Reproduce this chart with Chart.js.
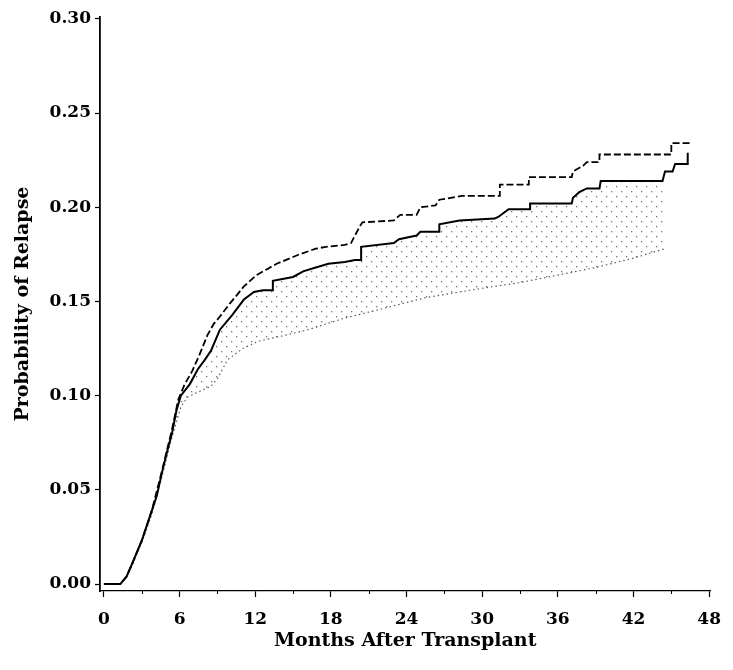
<!DOCTYPE html>
<html>
<head>
<meta charset="utf-8">
<script src="https://cdn.jsdelivr.net/npm/chart.js@4.4.1/dist/chart.umd.min.js"></script>
<style>
  html, body { margin: 0; padding: 0; background: #fff; }
  #wrap { width: 733px; height: 670px; }
</style>
</head>
<body>
<div id="wrap"><canvas id="relapse-chart"></canvas></div>
<script>
// Tick labels
const xTicks = [0, 6, 12, 18, 24, 30, 36, 42, 48];
const xMinorTicks = [3, 9, 15, 21, 27, 33, 39, 45];
const yTicks = [0, 0.05, 0.10, 0.15, 0.20, 0.25, 0.30];

// Solid curve (estimate); repeated months are the vertical steps
const solidMonths = [0, 1.3, 1.8, 2.25, 3.0, 3.8, 4.2, 4.6, 5.0, 5.4, 5.75, 6.1, 6.8, 7.45, 8.0, 8.5, 9.2, 10.2, 11.1, 11.9, 12.6, 13.4, 13.4, 15.0, 15.8, 16.8, 17.8, 19.1, 19.9, 20.4, 20.4, 23.0, 23.4, 24.8, 25.1, 26.6, 26.6, 28.2, 31.0, 31.3, 32.1, 33.8, 33.8, 37.1, 37.2, 37.7, 38.3, 39.3, 39.4, 44.3, 44.5, 45.1, 45.3, 46.3, 46.3];
const solidValues = [0, 0, 0.004, 0.011, 0.023, 0.039, 0.047, 0.059, 0.070, 0.080, 0.092, 0.100, 0.106, 0.114, 0.119, 0.124, 0.135, 0.143, 0.151, 0.155, 0.156, 0.156, 0.161, 0.163, 0.166, 0.168, 0.170, 0.171, 0.172, 0.172, 0.179, 0.181, 0.183, 0.185, 0.187, 0.187, 0.191, 0.193, 0.194, 0.195, 0.199, 0.199, 0.202, 0.202, 0.205, 0.208, 0.210, 0.210, 0.214, 0.214, 0.219, 0.219, 0.223, 0.223, 0.229];

// Dashed curve (upper)
const dashMonths = [0, 1.3, 1.8, 2.25, 3.0, 3.8, 4.6, 5.4, 5.9, 6.4, 7.0, 7.6, 8.2, 8.7, 9.2, 10.0, 10.5, 11.1, 12.1, 12.9, 13.7, 15.5, 16.8, 17.6, 19.1, 19.6, 20.3, 20.5, 23.0, 23.5, 24.8, 25.1, 26.3, 26.6, 28.4, 31.4, 31.4, 33.7, 33.7, 37.1, 37.2, 38.0, 38.3, 39.3, 39.3, 45.0, 45.0, 46.6];
const dashValues = [0, 0, 0.004, 0.011, 0.023, 0.039, 0.060, 0.082, 0.098, 0.106, 0.113, 0.122, 0.132, 0.138, 0.142, 0.149, 0.153, 0.158, 0.164, 0.167, 0.170, 0.175, 0.178, 0.179, 0.180, 0.181, 0.190, 0.192, 0.193, 0.196, 0.196, 0.200, 0.201, 0.204, 0.206, 0.206, 0.212, 0.212, 0.216, 0.216, 0.219, 0.222, 0.224, 0.224, 0.228, 0.228, 0.234, 0.234];

// Dotted curve (lower)
const lowMonths = [0, 1.3, 1.8, 2.25, 3.0, 3.8, 4.6, 5.4, 6.1, 6.6, 7.5, 8.5, 9.0, 9.8, 11.0, 12.3, 13.7, 16.2, 19.0, 22.0, 25.5, 30.0, 33.0, 36.0, 39.0, 42.0, 44.5];
const lowValues = [0, 0, 0.004, 0.010, 0.022, 0.037, 0.057, 0.078, 0.094, 0.099, 0.102, 0.105, 0.109, 0.119, 0.125, 0.129, 0.131, 0.135, 0.141, 0.146, 0.152, 0.157, 0.160, 0.164, 0.168, 0.173, 0.178];

const toPoints = (xs, ys) => xs.map((x, i) => ({ x: x, y: ys[i] }));

// dotted hatch between the lower curve and the solid one
function dotPattern() {
    const c = document.createElement('canvas');
    c.width = 10; c.height = 10;
    const g = c.getContext('2d');
    g.fillStyle = 'rgba(0,0,0,0.55)';
    g.fillRect(1, 1, 1.3, 1.3);
    g.fillRect(6, 6, 1.3, 1.3);
    return g.createPattern(c, 'repeat');
}

const minorTicksPlugin = {
    id: 'minorTicks',
    afterDraw(chart) {
        const x = chart.scales.x;
        const ctx = chart.ctx;
        ctx.save();
        ctx.strokeStyle = '#000';
        ctx.lineWidth = 1;
        xMinorTicks.forEach(v => {
            const px = Math.round(x.getPixelForValue(v)) + 0.5;
            ctx.beginPath();
            ctx.moveTo(px, x.top);
            ctx.lineTo(px, x.top + 3);
            ctx.stroke();
        });
        ctx.restore();
    }
};

const tickFont = { family: 'DejaVu Serif', weight: 'bold', size: 17 };
const titleFont = { family: 'DejaVu Serif', weight: 'bold', size: 19 };

new Chart(document.getElementById('relapse-chart'), {
    type: 'line',
    data: {
        datasets: [
            {
                label: 'upper',
                data: toPoints(dashMonths, dashValues),
                borderColor: '#000',
                borderWidth: 1.8,
                borderDash: [7, 3],
                pointRadius: 0,
                tension: 0,
                fill: false
            },
            {
                label: 'estimate',
                data: toPoints(solidMonths, solidValues),
                borderColor: '#000',
                borderWidth: 2,
                pointRadius: 0,
                tension: 0,
                fill: false
            },
            {
                label: 'lower',
                data: toPoints(lowMonths, lowValues),
                borderColor: 'rgba(0,0,0,0.65)',
                borderWidth: 1.2,
                borderDash: [1.5, 3],
                pointRadius: 0,
                tension: 0,
                fill: { target: 1 },
                backgroundColor: dotPattern()
            }
        ]
    },
    options: {
        responsive: true,
        maintainAspectRatio: false,
        animation: false,
        layout: { padding: { top: 17, right: 11, bottom: 0, left: 0 } },
        plugins: { legend: { display: false }, tooltip: { enabled: false } },
        scales: {
            x: {
                type: 'linear',
                min: -0.31,
                max: 48.1,
                afterBuildTicks: s => { s.ticks = xTicks.map(v => ({ value: v })); },
                afterFit: s => { s.height = 79; },
                grid: { drawOnChartArea: false, drawTicks: true, tickLength: 6, tickColor: '#000', tickWidth: 1.2 },
                border: { display: true, color: '#000', width: 1.3 },
                ticks: { color: '#000', font: tickFont, padding: 12, maxRotation: 0 },
                title: { display: true, text: 'Months After Transplant', color: '#000', font: titleFont, padding: { top: 0, bottom: 18 } }
            },
            y: {
                type: 'linear',
                min: -0.0037,
                max: 0.301,
                afterBuildTicks: s => { s.ticks = yTicks.map(v => ({ value: v })); },
                afterFit: s => { s.width = 100; },
                grid: { drawOnChartArea: false, drawTicks: true, tickLength: 5, tickColor: '#000', tickWidth: 1.2 },
                border: { display: true, color: '#000', width: 1.8 },
                ticks: { color: '#000', font: tickFont, padding: 4, callback: v => v.toFixed(2) },
                title: { display: true, text: 'Probability of Relapse', color: '#000', font: titleFont, padding: { top: 12, bottom: 0 } }
            }
        }
    },
    plugins: [minorTicksPlugin]
});
</script>
</body>
</html>
